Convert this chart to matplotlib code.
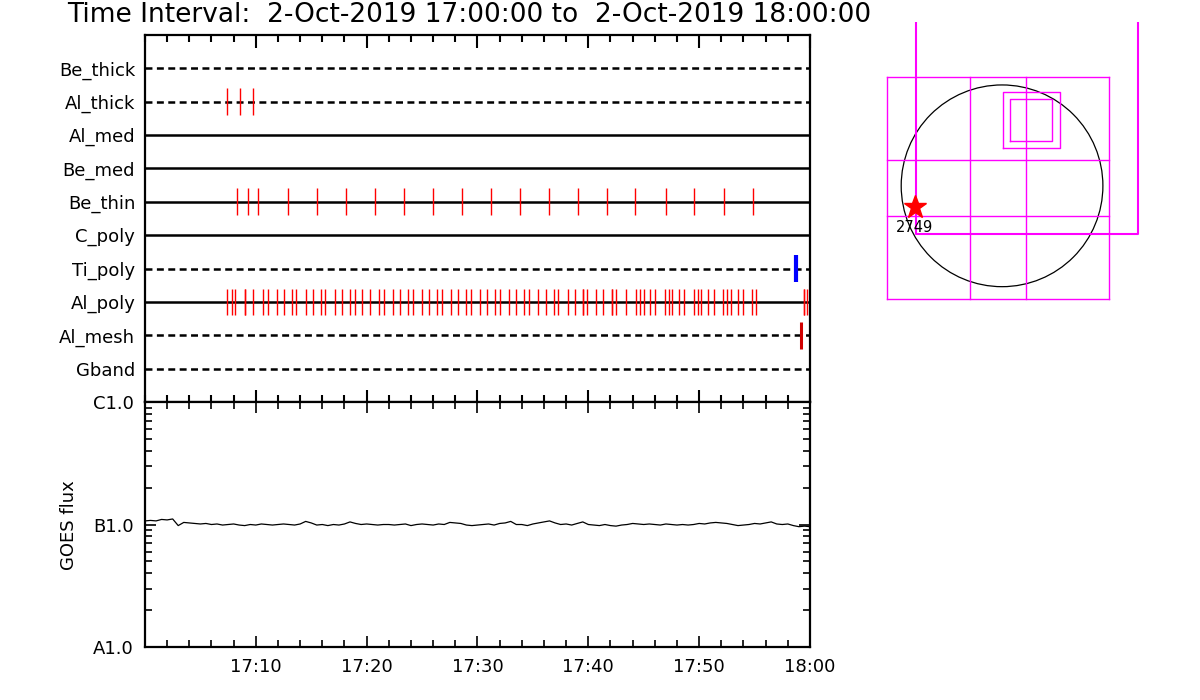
"""
Intervalos de eventos por canal + flujo GOES + mapa del sol
"""

import numpy as np
import matplotlib
matplotlib.use('Agg')
from matplotlib import pyplot as plt
from matplotlib.ticker import MultipleLocator, LogLocator, NullFormatter

plt.rcParams['font.family'] = 'DejaVu Sans'
plt.rcParams['lines.scale_dashes'] = False

#Datos
titulo = 'Time Interval:  2-Oct-2019 17:00:00 to  2-Oct-2019 18:00:00'
canales = ['Be_thick', 'Al_thick', 'Al_med', 'Be_med', 'Be_thin',
           'C_poly', 'Ti_poly', 'Al_poly', 'Al_mesh', 'Gband']
punteados = ['Be_thick', 'Al_thick', 'Ti_poly', 'Al_mesh', 'Gband']

# tiempos de eventos en minutos desde 17:00
ev_al_thick = [7.43, 8.61, 9.79]
ev_be_thin = [8.28, 9.34, 10.24, 12.90, 15.50, 18.12, 20.75, 23.37, 26.00, 28.59,
              31.22, 33.84, 36.47, 39.10, 41.73, 44.23, 46.98, 49.57, 52.20, 54.82]
ev_al_poly = [7.44, 7.89, 8.16, 9.01, 9.06, 9.74, 10.64, 11.06, 11.91, 12.50, 13.23,
              13.65, 14.49, 15.13, 15.85, 16.27, 17.12, 17.75, 18.47, 18.92, 19.62,
              20.34, 21.09, 21.55, 22.40, 23.03, 23.75, 24.17, 25.02, 25.65, 26.37,
              26.79, 27.64, 28.27, 29.00, 29.45, 30.26, 30.86, 31.56, 32.03, 32.88,
              33.48, 34.20, 34.66, 35.47, 36.14, 36.86, 37.28, 38.13, 38.76, 39.48,
              39.53, 39.90, 40.71, 41.35, 42.13, 42.18, 42.52, 43.37, 44.28, 44.64,
              45.00, 45.54, 46.02, 46.90, 47.26, 47.59, 48.22, 48.67, 49.52, 49.88,
              50.21, 50.84, 51.33, 52.14, 52.50, 52.83, 53.50, 53.95, 54.76, 55.13,
              59.42, 59.50, 59.70]
ev_ti_poly = [58.77]
ev_al_mesh = [59.18]

xticks_min = [10, 20, 30, 40, 50, 60]
xticks_lab = ['17:10', '17:20', '17:30', '17:40', '17:50', '18:00']

# flujo GOES (x1e-7 W/m2), cada 30 s desde 17:00
goes_e7 = [1.07, 1.08, 1.07, 1.10, 1.09, 1.11, 0.98, 1.04, 1.03, 1.02, 1.01, 1.02,
           1.00, 1.01, 0.99, 1.00, 1.01, 0.99, 0.98, 1.00, 0.99, 1.01, 1.00, 0.99,
           1.00, 1.01, 1.00, 0.99, 1.01, 1.06, 1.03, 0.99, 1.00, 0.98, 1.00, 0.99,
           1.01, 1.05, 1.02, 1.00, 1.01, 1.00, 0.99, 1.00, 1.00, 0.99, 1.00, 1.01,
           0.98, 1.00, 1.01, 1.00, 0.99, 1.01, 1.00, 1.04, 1.03, 1.02, 0.99, 0.98,
           0.99, 1.00, 1.01, 0.99, 1.02, 1.03, 1.06, 1.00, 1.00, 0.98, 1.01, 1.03,
           1.05, 1.07, 1.03, 1.00, 1.01, 0.99, 1.02, 1.05, 1.00, 0.99, 0.98, 1.00,
           0.98, 0.97, 0.99, 1.00, 1.02, 1.01, 1.00, 1.01, 1.00, 0.99, 1.01, 1.00,
           0.99, 1.00, 0.99, 1.00, 1.02, 1.01, 1.03, 1.04, 1.03, 1.02, 1.00, 0.98,
           0.99, 1.00, 1.02, 1.01, 1.03, 1.05, 1.01, 1.00, 1.01, 0.98, 0.96, 0.97,
           0.96]
t_goes = np.arange(len(goes_e7)) * 0.5

# mapa (arcsec)
sol_radio = 960
grid_x = [-1092, -302, 231, 1021]
grid_y = [-1079, -291, 242, 1032]
fov_ext = [12, 356, 549, 889]   # x0, y0, x1, y1
fov_int = [76, 423, 479, 825]
marco_x = [-822, -822, 1295, 1295]
marco_y = [1700, -460, -460, 1700]
flare_xy = (-831, -206)
flare_id = '2749'

#Figura
fig = plt.figure(figsize=(12, 7), dpi=100)
fig.text(67/1200, 1 - 15/700, titulo, fontsize=19, ha='left', va='center')

# Panel de eventos
ax = fig.add_axes([0.1208, 0.4257, 0.5542, 0.5243])
ax.set_xlim(0, 60)
ax.set_ylim(0, 11)
filas = {c: 10 - i for i, c in enumerate(canales)}
for c in canales:
    ls = (0, (5, 3.2)) if c in punteados else '-'
    ax.axhline(filas[c], color='black', lw=1.8, ls=ls)

h = 0.4
ax.vlines(ev_al_thick, filas['Al_thick'] - h, filas['Al_thick'] + h, color='red', lw=1.0)
ax.vlines(ev_be_thin, filas['Be_thin'] - h, filas['Be_thin'] + h, color='red', lw=1.0)
ax.vlines(ev_al_poly, filas['Al_poly'] - h, filas['Al_poly'] + h, color='red', lw=1.0)
ax.vlines(ev_ti_poly, filas['Ti_poly'] - h, filas['Ti_poly'] + h, color='blue', lw=3.0)
ax.vlines(ev_al_mesh, filas['Al_mesh'] - h, filas['Al_mesh'] + h, color='#d00000', lw=2.2)

ax.set_yticks([filas[c] for c in canales])
ax.set_yticklabels(canales, fontsize=13)
ax.tick_params(axis='y', length=0, pad=7)
ax.set_xticks(xticks_min)
ax.xaxis.set_minor_locator(MultipleLocator(2))
ax.tick_params(axis='x', which='both', direction='in', top=True, bottom=True,
               labelbottom=False, width=1.5)
ax.tick_params(axis='x', which='major', length=9)
ax.tick_params(axis='x', which='minor', length=5)
for s in ax.spines.values():
    s.set_linewidth(1.6)

# Panel GOES
bx = fig.add_axes([0.1208, 0.0757, 0.5542, 0.35])
bx.plot(t_goes, np.array(goes_e7) * 1e-7, color='black', lw=0.9)
bx.set_yscale('log')
bx.set_ylim(1e-8, 1e-6)
bx.set_xlim(0, 60)
bx.set_yticks([1e-8, 1e-7, 1e-6])
bx.set_yticklabels(['A1.0', 'B1.0', 'C1.0'], fontsize=13)
bx.yaxis.set_minor_locator(LogLocator(base=10, subs=np.arange(2, 10)))
bx.yaxis.set_minor_formatter(NullFormatter())
bx.set_xticks(xticks_min)
bx.set_xticklabels(xticks_lab, fontsize=13)
bx.xaxis.set_minor_locator(MultipleLocator(2))
bx.tick_params(which='both', direction='in', top=True, bottom=True, left=True,
               right=True, width=1.2)
bx.tick_params(which='major', length=8, pad=8)
bx.tick_params(which='minor', length=5)
for s in bx.spines.values():
    s.set_linewidth(1.6)
fig.text(69.5/1200, 1 - 525/700, 'GOES flux', rotation=90, fontsize=13,
         ha='center', va='center')

# Mapa del sol
cx = fig.add_axes([0.725, 0.557, 0.2417, 0.4114])
cx.set_xlim(-1257, 1504)
cx.set_ylim(-1183, 1558)
cx.axis('off')
cx.add_patch(plt.Circle((0, 0), sol_radio, fill=False, color='black', lw=0.9))
for gx in grid_x:
    cx.plot([gx, gx], [grid_y[0], grid_y[-1]], color='magenta', lw=1.0)
for gy in grid_y:
    cx.plot([grid_x[0], grid_x[-1]], [gy, gy], color='magenta', lw=1.0)
for f in (fov_ext, fov_int):
    cx.plot([f[0], f[2], f[2], f[0], f[0]], [f[1], f[1], f[3], f[3], f[1]],
            color='magenta', lw=1.0)
cx.plot(marco_x, marco_y, color='magenta', lw=1.5)
cx.plot(*flare_xy, marker='*', color='red', ms=17, mec='red')
cx.text(flare_xy[0] - 7, flare_xy[1] - 190, flare_id, fontsize=10.5,
        ha='center', va='center')

plt.savefig('out.png')
